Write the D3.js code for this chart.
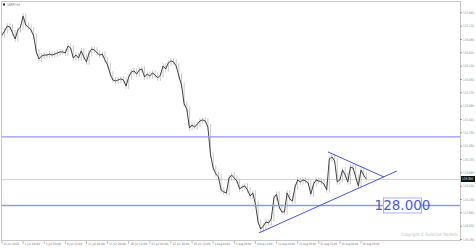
<!DOCTYPE html>
<html>
<head>
<meta charset="utf-8">
<script src="https://cdn.jsdelivr.net/npm/d3@7"></script>
<style>
  body { margin: 0; background: #fff; }
  text { font-family: "DejaVu Sans", sans-serif; }
</style>
</head>
<body>
<div id="chart"></div>
<script>
// GBPJPY closes, one per 8 hours
const closes = [
  136.69, 136.90, 137.15, 137.10, 136.80, 136.49, 136.95, 137.10, 137.66, 137.20,
  137.10, 136.95, 136.64, 135.83, 135.47, 135.62, 135.67, 135.67, 135.72, 135.67,
  135.72, 135.78, 135.83, 135.83, 135.78, 136.13, 136.03, 135.52, 135.67, 135.52,
  135.88, 135.57, 135.32, 135.78, 135.98, 135.93, 135.78, 135.67, 135.72, 135.42,
  135.16, 134.70, 134.40, 134.35, 134.40, 134.45, 134.40, 134.09, 134.55, 134.81,
  134.86, 134.70, 134.91, 134.96, 134.55, 134.70, 134.60, 134.76, 134.65, 134.50,
  134.65, 135.11, 134.96, 135.27, 135.37, 135.32, 135.11, 134.60, 134.14, 133.18,
  132.92, 131.95, 132.10, 132.00, 132.15, 132.31, 132.36, 132.31, 132.00, 130.57,
  129.91, 129.61, 129.45, 128.79, 128.69, 128.64, 129.40, 129.55, 129.40, 129.25,
  128.84, 128.94, 128.99, 128.79, 128.48, 128.64, 128.08, 127.16, 126.80, 126.95,
  127.16, 127.11, 127.31, 128.38, 128.58, 127.92, 127.67, 127.67, 128.64, 128.33,
  128.23, 128.94, 129.30, 129.20, 129.30, 129.25, 129.15, 128.58, 129.09, 129.30,
  129.25, 129.20, 129.09, 128.79, 130.37, 130.47, 130.27, 129.20, 129.30, 129.81,
  129.55, 129.20, 129.96, 129.91, 129.45, 128.99, 129.81, 129.55, 129.35
];

const xLabels = [
  "26 Jun 2019", "1 Jul 04:00", "3 Jul 20:00", "8 Jul 12:00", "11 Jul 04:00",
  "15 Jul 20:00", "18 Jul 12:00", "23 Jul 04:00", "25 Jul 20:00", "30 Jul 12:00",
  "2 Aug 04:00", "6 Aug 20:00", "9 Aug 12:00", "14 Aug 04:00", "16 Aug 20:00",
  "21 Aug 12:00", "26 Aug 04:00", "28 Aug 20:00"
];

const yTicks = [
  137.850, 137.170, 136.490, 135.810, 135.130, 134.450, 133.770, 133.090, 132.410,
  131.730, 131.050, 130.370, 129.690, 129.010, 128.330, 127.650, 126.970, 126.290
];

const levels = [131.50, 128.00];
const triangleUpper = [{ i: 123.5, p: 130.73 }, { i: 144.7, p: 129.45 }];
const triangleLower = [{ i: 97.3, p: 126.60 }, { i: 149.6, p: 129.76 }];
const levelLabel = "128.000";

const W = 476, H = 248;
const plotL = 2, plotR = 460, plotT = 2, plotB = 240;

const svg = d3.select("#chart")
  .append("svg")
  .attr("width", W)
  .attr("height", H);

const x = d3.scaleLinear().domain([0, 173.5]).range([plotL, plotR]);
const y = d3.scaleLinear().domain([126.29, 137.85]).range([239, 12.3]);

// frame
svg.append("rect")
  .attr("x", plotL - 0.5).attr("y", plotT - 0.5)
  .attr("width", plotR - plotL + 1).attr("height", plotB - plotT + 1)
  .attr("fill", "none")
  .attr("stroke", "#c8c8c8");

// current price line
const last = closes[closes.length - 1];
svg.append("line")
  .attr("x1", plotL).attr("x2", plotR)
  .attr("y1", Math.round(y(last)) + 0.5).attr("y2", Math.round(y(last)) + 0.5)
  .attr("stroke", "#d4d4d4");

// bars (open = previous close)
svg.selectAll("line.bar")
  .data(closes)
  .enter()
  .append("line")
  .attr("class", "bar")
  .attr("x1", (d, i) => x(i)).attr("x2", (d, i) => x(i))
  .attr("y1", (d, i) => y(Math.max(d, i ? closes[i - 1] : d) + 0.14))
  .attr("y2", (d, i) => y(Math.min(d, i ? closes[i - 1] : d) - 0.14))
  .attr("stroke", "#c4c4c4")
  .attr("stroke-width", 0.9);

const line = d3.line()
  .x((d, i) => x(i))
  .y((d) => y(d));

svg.append("path")
  .attr("d", line(closes))
  .attr("fill", "none")
  .attr("stroke", "#444")
  .attr("stroke-width", 1);

// horizontal levels
svg.selectAll("line.level")
  .data(levels)
  .enter()
  .append("line")
  .attr("class", "level")
  .attr("x1", plotL).attr("x2", plotR)
  .attr("y1", (d) => y(d)).attr("y2", (d) => y(d))
  .attr("stroke", "#8f99f2")
  .attr("stroke-width", 1.4);

// triangle
const tline = d3.line().x((d) => x(d.i)).y((d) => y(d.p));
[triangleUpper, triangleLower].forEach((t) => {
  svg.append("path")
    .attr("d", tline(t))
    .attr("fill", "none")
    .attr("stroke", "#4257ee")
    .attr("stroke-width", 1);
});

// 128.000 label box
const ly = y(levels[1]);
svg.append("rect")
  .attr("x", 383.5).attr("y", ly - 7.5)
  .attr("width", 38).attr("height", 15)
  .attr("fill", "#fff")
  .attr("stroke", "#aab0f0");
svg.append("text")
  .attr("x", 402.5).attr("y", ly + 5)
  .attr("text-anchor", "middle")
  .style("font-size", "13.5px")
  .style("fill", "#4a5ae6")
  .text(levelLabel);

// y axis
const yAxis = svg.append("g")
  .attr("transform", `translate(${plotR},0)`)
  .call(d3.axisRight(y).tickValues(yTicks).tickSize(2).tickPadding(1).tickFormat(d3.format(".3f")));
yAxis.select(".domain").remove();
yAxis.selectAll("line").attr("stroke", "#999");
yAxis.selectAll("text")
  .attr("textLength", 11).attr("lengthAdjust", "spacingAndGlyphs")
  .style("font-size", "3.4px").style("fill", "#888")
  .style("font-family", "DejaVu Sans, sans-serif");

// current price marker
svg.append("rect")
  .attr("x", plotR + 1).attr("y", y(last) - 3)
  .attr("width", 14).attr("height", 6)
  .attr("fill", "#111");
svg.append("text")
  .attr("x", plotR + 2).attr("y", y(last) + 1.4)
  .attr("textLength", 11).attr("lengthAdjust", "spacingAndGlyphs")
  .style("font-size", "3.6px").style("fill", "#fff")
  .text(d3.format(".3f")(last));

// x axis
const xg = svg.selectAll("g.xl")
  .data(xLabels)
  .enter()
  .append("g")
  .attr("class", "xl")
  .attr("transform", (d, k) => `translate(${x(k * 8)},${plotB})`);
xg.append("line")
  .attr("x1", 0).attr("x2", 0).attr("y1", 1).attr("y2", 4)
  .attr("stroke", "#999").attr("stroke-width", 0.6);
xg.append("text")
  .attr("x", 1.5).attr("y", 5.3)
  .attr("textLength", (d) => d.length * 1.4)
  .attr("lengthAdjust", "spacingAndGlyphs")
  .style("font-size", "3.2px").style("fill", "#777")
  .text((d) => d);

// title and copyright
svg.append("rect").attr("x", 3).attr("y", 3.5).attr("width", 2).attr("height", 2).attr("fill", "#222");
svg.append("text")
  .attr("x", 7).attr("y", 6)
  .attr("textLength", 13).attr("lengthAdjust", "spacingAndGlyphs")
  .style("font-size", "3.8px").style("fill", "#777")
  .text("GBPJPY,H4");
svg.append("text")
  .attr("x", 401).attr("y", 236)
  .attr("textLength", 57).attr("lengthAdjust", "spacingAndGlyphs")
  .style("font-size", "4.6px").style("fill", "#bbb")
  .text("Copyright © Fullerton Markets");
</script>
</body>
</html>
